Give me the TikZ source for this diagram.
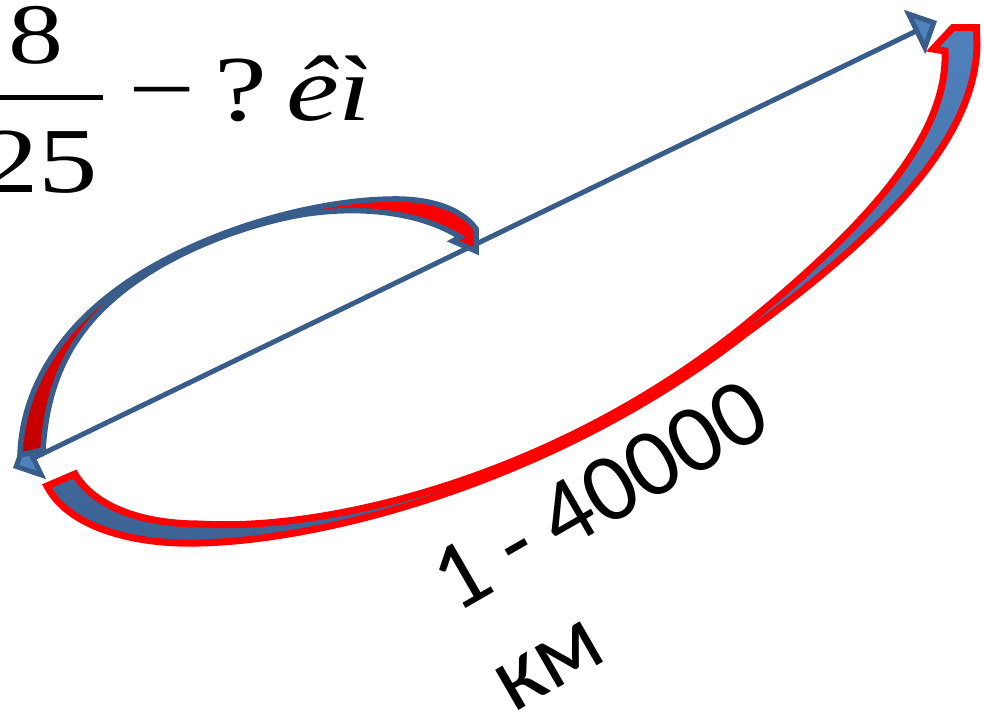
\documentclass[tikz,border=0pt]{standalone}
\usepackage{fontspec}
\setmainfont{Liberation Serif}
\newfontfamily\carl{Carlito}
\usetikzlibrary{arrows.meta}
\definecolor{dblue}{HTML}{385D8A}
\definecolor{bfill}{HTML}{4F81BD}
\definecolor{bdark}{HTML}{3D6394}
\definecolor{rdark}{HTML}{C00000}
\begin{document}
\begin{tikzpicture}[x=1pt,y=-1pt,
  mathtxt/.style={font=\fontsize{93}{100}\selectfont, inner sep=0pt, anchor=base, xscale=1.28},
  mathit/.style={font=\fontsize{93}{100}\selectfont\itshape, inner sep=0pt, anchor=base, xscale=1.28},
  kmtxt/.style={font=\carl\fontsize{97}{100}\selectfont, inner sep=0pt, anchor=base, rotate=30},
  axisline/.style={draw=dblue, line width=5pt,
    {Triangle[length=25pt,width=48pt,fill=bfill]}-{Triangle[length=25pt,width=48pt,fill=bfill]}},
  loopshape/.style={draw=dblue, line width=5.5pt, top color=red, bottom color=rdark, line join=miter},
  bigshape/.style={draw=red, line width=7pt, top color=bfill, bottom color=bdark, line join=miter},
  ]
\useasboundingbox (0,0) rectangle (984,713);
% main line
\coordinate (A) at (13,468);
\coordinate (B) at (937,21);
\draw[axisline] (A) -- (B);
% small loop arrow
\path[loopshape]
  (20,455) .. controls (22,390) and (60,320) .. (150,268)
  .. controls (230,222) and (330,198) .. (400,199)
  .. controls (440,200) and (465,213) .. (476,229)
  -- (476,251) -- (453,241) -- (460,237)
  .. controls (420,212) and (360,205) .. (300,215)
  .. controls (240,226) and (185,250) .. (150,272)
  .. controls (80,316) and (48,370) .. (43,450)
  -- cycle;
% big crescent arrow
\path[bigshape]
  (47,486) .. controls (70,530) and (140,545) .. (200,543)
  .. controls (330,540) and (560,478) .. (745,334)
  .. controls (860,250) and (975,150) .. (977,45)
  -- (976.5,27.5) -- (953,27.5) -- (933,49) -- (945,51)
  .. controls (948,130) and (880,215) .. (745,325)
  .. controls (560,475) and (330,532) .. (200,524)
  .. controls (130,524) and (90,500) .. (75,474)
  -- cycle;
% formula
\node[mathtxt, font=\fontsize{86}{100}\selectfont] (num) at (36,63) {8};
\fill (-1,95) rectangle (103,99.5);
\node[mathtxt] (den) at (39,192) {25};
\node[mathtxt] (minus) at (162,120.5) {−};
\node[mathtxt] (quest) at (241,120) {?};
\node[mathit] (ei) at (329,120) {êì};
% distance labels
\node[kmtxt] (dist) at (615,522) {1 - 40000};
\node[kmtxt] (km) at (561,686) {км};
\end{tikzpicture}
\end{document}
